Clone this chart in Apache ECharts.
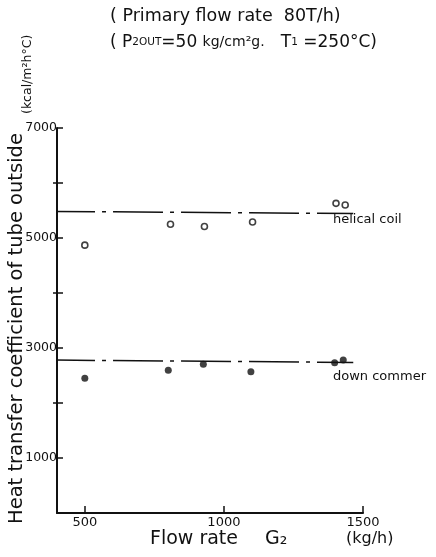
<!DOCTYPE html>
<html>
<head>
<meta charset="utf-8">
<script src="https://cdn.jsdelivr.net/npm/echarts@6/dist/echarts.min.js"></script>
<style>
  html, body { margin: 0; padding: 0; background: #fff; }
  #chart { width: 436px; height: 557px; }
</style>
</head>
<body>
<div id="chart"></div>
<script>
// Outside heat transfer coefficient vs. secondary flow rate G2
const helicalFlow = [500, 808, 930, 1103, 1403, 1436];
const helicalCoef = [4870, 5250, 5210, 5290, 5630, 5600];
const downFlow = [500, 800, 926, 1097, 1398, 1429];
const downCoef = [2450, 2595, 2704, 2570, 2733, 2782];
// Fitted trend lines (start / end)
const helicalTrendFlow = [357, 1465];
const helicalTrendCoef = [5485, 5445];
const downTrendFlow = [357, 1465];
const downTrendCoef = [2782, 2738];
// Axis ticks and labels
const xTicks = [500, 1000, 1500];
const yTicks = [1000, 3000, 5000, 7000];
const yMinorTicks = [2000, 4000, 6000];
const yLabels = [1000, 3000, 5000, 7000];

const zip = (a, b) => a.map((v, i) => [v, b[i]]);
const INK = '#111';
const FONT = 'DejaVu Sans';
const plain = v => String(v);

const chart = echarts.init(document.getElementById('chart'));
chart.setOption({
  backgroundColor: '#fff',
  animation: false,
  textStyle: { fontFamily: FONT, color: INK },
  grid: { left: 57, right: 73, top: 128, bottom: 44 },
  xAxis: {
    type: 'value', min: 400, max: 1500,
    axisLine: { show: true, lineStyle: { color: INK, width: 2 } },
    axisTick: { show: true, inside: true, length: 7, customValues: xTicks, lineStyle: { color: INK, width: 1.5 } },
    axisLabel: { customValues: xTicks, formatter: plain, color: INK, fontSize: 13, margin: 3, fontFamily: FONT },
    splitLine: { show: false }
  },
  yAxis: [
    {
      type: 'value', min: 0, max: 7000,
      axisLine: { show: true, lineStyle: { color: INK, width: 2 } },
      axisTick: { show: true, inside: true, length: 6, customValues: yTicks, lineStyle: { color: INK, width: 1.5 } },
      axisLabel: { customValues: yLabels, formatter: plain, color: INK, fontSize: 12.5, margin: 0, fontFamily: FONT },
      splitLine: { show: false }
    },
    {
      // unlabeled intermediate ticks that cross the axis line
      type: 'value', min: 0, max: 7000, position: 'left',
      axisLine: { show: false },
      axisTick: { show: true, inside: false, length: 4, customValues: yMinorTicks, lineStyle: { color: INK, width: 1.5 } },
      axisLabel: { show: false },
      splitLine: { show: false }
    },
    {
      type: 'value', min: 0, max: 7000, position: 'left',
      axisLine: { show: false },
      axisTick: { show: true, inside: true, length: 6, customValues: yMinorTicks, lineStyle: { color: INK, width: 1.5 } },
      axisLabel: { show: false },
      splitLine: { show: false }
    }
  ],
  series: [
    {
      name: 'helical coil trend', type: 'line', clip: false, symbol: 'none',
      data: zip(helicalTrendFlow, helicalTrendCoef),
      lineStyle: { color: INK, width: 1.5, type: [50, 7, 4, 7] }
    },
    {
      name: 'down commer trend', type: 'line', clip: false, symbol: 'none',
      data: zip(downTrendFlow, downTrendCoef),
      lineStyle: { color: INK, width: 1.5, type: [50, 7, 4, 7] }
    },
    {
      name: 'helical coil', type: 'scatter', symbol: 'circle', symbolSize: 6,
      data: zip(helicalFlow, helicalCoef),
      itemStyle: { color: '#fff', borderColor: INK, borderWidth: 1.6 }
    },
    {
      name: 'down commer', type: 'scatter', symbol: 'circle', symbolSize: 7,
      data: zip(downFlow, downCoef),
      itemStyle: { color: INK }
    }
  ],
  graphic: [
    {
      type: 'text', left: 110, top: 7,
      style: { text: '( Primary flow rate  80T/h)', font: '17.5px "DejaVu Sans"', fill: INK }
    },
    {
      type: 'text', left: 110, top: 34,
      style: {
        text: '{a|( P}{s|2OUT}{a|=50 }{b|kg/cm²g.}{a|   T}{s|1}{a| =250°C)}',
        rich: {
          a: { fontSize: 17, fontFamily: FONT, fill: INK },
          b: { fontSize: 14, fontFamily: FONT, fill: INK },
          s: { fontSize: 10.5, fontFamily: FONT, fill: INK }
        }
      }
    },
    {
      type: 'text', x: 17, y: 524, rotation: Math.PI / 2,
      style: { text: 'Heat transfer coefficient of tube outside', font: '19.5px "DejaVu Sans"', fill: INK, verticalAlign: 'middle' }
    },
    {
      type: 'text', x: 28, y: 114, rotation: Math.PI / 2,
      style: { text: '(kcal/m²h°C)', font: '12.5px "DejaVu Sans"', fill: INK, verticalAlign: 'middle' }
    },
    {
      type: 'text', left: 150, top: 530,
      style: { text: 'Flow rate', font: '19px "DejaVu Sans"', fill: INK }
    },
    {
      type: 'text', left: 265, top: 530,
      style: { text: 'G₂', font: '19px "DejaVu Sans"', fill: INK }
    },
    {
      type: 'text', left: 346, top: 531,
      style: { text: '(kg/h)', font: '16px "DejaVu Sans"', fill: INK }
    },
    {
      type: 'text', left: 333, top: 213,
      style: { text: 'helical coil', font: '13px "DejaVu Sans"', fill: INK }
    },
    {
      type: 'text', left: 333, top: 370,
      style: { text: 'down commer', font: '13px "DejaVu Sans"', fill: INK }
    }
  ]
});
</script>
</body>
</html>
